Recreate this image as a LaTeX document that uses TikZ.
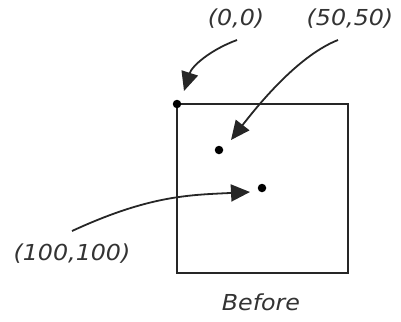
\documentclass[tikz,border=0pt]{standalone}
\usepackage{fontspec}
\setmainfont{DejaVu Sans}
\usetikzlibrary{arrows.meta}
\begin{document}
\begin{tikzpicture}[x=1pt,y=-1pt,
  lbl/.style={text=black!80, font=\fontsize{22}{26}\selectfont\itshape, inner sep=0pt, xscale=1.08},
  pt/.style={circle, fill=black, inner sep=0pt, minimum size=8.5pt},
  arr/.style={line width=1.8pt, draw=black!85, -{Triangle[length=19pt,width=17pt]}}]
\useasboundingbox (0,0) rectangle (401,321);
\draw[line width=1.6pt, draw=black!85] (177,104) rectangle (348,273);
\node[pt] (o) at (177,104) {};
\node[pt] (p50) at (219,150) {};
\node[pt] (p100) at (262,188) {};
\node[lbl] (l0) at (236,19) {(0,0)};
\node[lbl] (l50) at (350,19) {(50,50)};
\node[lbl] (l100) at (72,254) {(100,100)};
\node[lbl] (before) at (261,302) {Before};
\coordinate (s0) at (237,40);
\coordinate (s50) at (338,40);
\coordinate (s100) at (72,231);
\coordinate (t0) at (184,91);
\coordinate (t50) at (231,140);
\coordinate (t100) at (250,192);
\draw[arr] (s0) .. controls (210,50) and (192,66) .. (t0);
\draw[arr] (s50) .. controls (300,55) and (262,100) .. (t50);
\draw[arr] (s100) .. controls (150,195) and (190,195) .. (t100);
\end{tikzpicture}
\end{document}
